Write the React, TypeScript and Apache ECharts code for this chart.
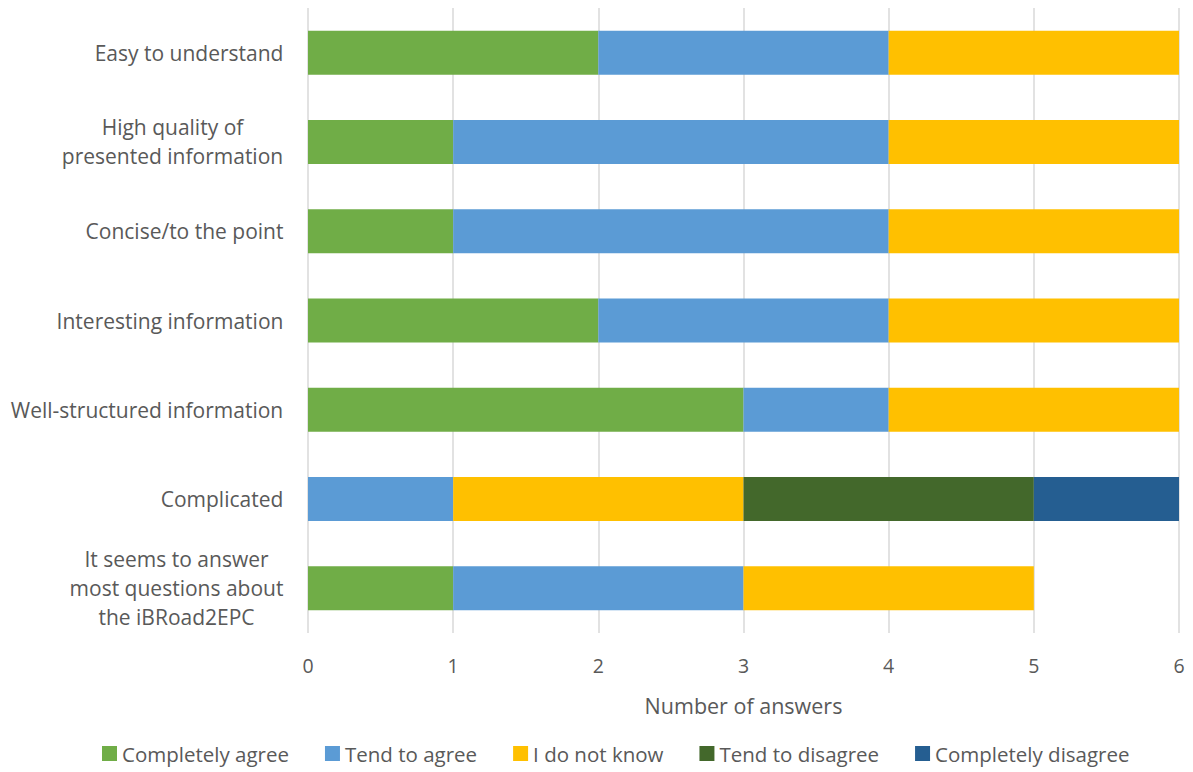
import React, { useEffect, useRef } from "react";
import * as echarts from "echarts";

const categories = [
  "Easy to understand",
  "High quality of\npresented information",
  "Concise/to the point",
  "Interesting information",
  "Well-structured information",
  "Complicated",
  "It seems to answer\nmost questions about\nthe iBRoad2EPC",
];
const completelyAgree = [2, 1, 1, 2, 3, 0, 1];
const tendToAgree = [2, 3, 3, 2, 1, 1, 2];
const doNotKnow = [2, 2, 2, 2, 2, 2, 2];
const tendToDisagree = [0, 0, 0, 0, 0, 2, 0];
const completelyDisagree = [0, 0, 0, 0, 0, 1, 0];
const seriesNames = ["Completely agree", "Tend to agree", "I do not know", "Tend to disagree", "Completely disagree"];
const colors = ["#70AD47", "#5B9BD5", "#FFC000", "#43682B", "#255E91"];
const xTicks = [0, 1, 2, 3, 4, 5, 6];

const FONT = "Open Sans";
const FS = 20.5;
const YFS = 21;

export default function App() {
  const ref = useRef<HTMLDivElement>(null);
  useEffect(() => {
    if (!ref.current) return;
    const chart = echarts.init(ref.current, undefined, { renderer: "svg" });
    const ctx = document.createElement("canvas").getContext("2d")!;
    ctx.font = `${YFS}px "${FONT}"`;
    const rich: Record<string, any> = {};
    categories.forEach((c, i) => {
      const w = Math.max(...c.split("\n").map((l) => ctx.measureText(l).width));
      rich["c" + i] = { width: Math.ceil(w) + 1, align: "center", fontSize: YFS, fontFamily: FONT, color: "#595959", lineHeight: 29 };
    });
    const data = [completelyAgree, tendToAgree, doNotKnow, tendToDisagree, completelyDisagree];
    const rev = <T,>(a: T[]) => a.slice().reverse();
    chart.setOption({
      animation: false,
      grid: { left: 308, right: 14, top: 8, bottom: 139, containLabel: false },
      legend: {
        bottom: 3,
        left: 97,
        itemWidth: 15,
        itemHeight: 15,
        itemGap: 36,
        icon: "rect",
        textStyle: { fontFamily: FONT, fontSize: FS, color: "#595959" },
        data: seriesNames,
      },
      xAxis: {
        type: "value",
        min: 0,
        max: 6,
        interval: 1,
        name: "Number of answers",
        nameLocation: "middle",
        nameGap: 61,
        nameTextStyle: { fontFamily: FONT, fontSize: FS + 1, color: "#595959" },
        axisLabel: {
          fontFamily: FONT,
          fontSize: FS - 1,
          color: "#595959",
          margin: 22,
          formatter: (v: number) => (xTicks.includes(v) ? String(v) : ""),
        },
        axisLine: { show: false },
        axisTick: { show: false },
        splitLine: { lineStyle: { color: "#D9D9D9", width: 1.5 } },
      },
      yAxis: {
        type: "category",
        data: rev(categories),
        axisLine: { show: false },
        axisTick: { show: false },
        axisLabel: {
          margin: 24,
          formatter: (v: string) => {
            const i = categories.indexOf(v);
            return v.split("\n").map((l) => `{c${i}|${l}}`).join("\n");
          },
          rich,
        },
      },
      series: seriesNames.map((n, k) => ({
        name: n,
        type: "bar",
        stack: "total",
        barWidth: 44,
        itemStyle: { color: colors[k] },
        data: rev(data[k]),
      })),
    });
    return () => chart.dispose();
  }, []);
  return <div ref={ref} style={{ width: 1193, height: 772, position: "absolute", left: 0, top: 0 }} />;
}
